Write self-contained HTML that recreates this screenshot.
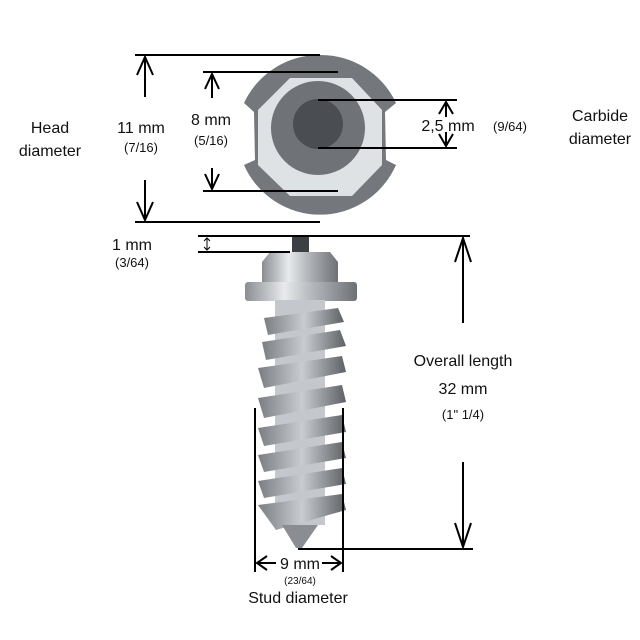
<!DOCTYPE html><html><head><style>body{margin:0;background:#fff}svg{display:block}text{font-family:"Liberation Sans",sans-serif;fill:#111}</style></head><body>
<svg width="640" height="640" viewBox="0 0 640 640" xmlns="http://www.w3.org/2000/svg">
<defs>
<linearGradient id="m" x1="0" x2="1"><stop offset="0" stop-color="#8a8d92"/><stop offset=".35" stop-color="#e8eaec"/><stop offset=".6" stop-color="#b4b7bb"/><stop offset="1" stop-color="#6d7075"/></linearGradient>
<linearGradient id="t" x1="0" x2="1"><stop offset="0" stop-color="#7a7d82"/><stop offset=".5" stop-color="#c9ccd0"/><stop offset="1" stop-color="#5d6065"/></linearGradient>
</defs>
<path d="M320 55 A83 83 0 0 1 396 103 L385 112 L386 160 L396 165 A83 83 0 0 1 244 165 L255 160 L254 112 L244 103 A83 83 0 0 1 320 55Z" fill="#74777c"/>
<polygon points="290,78 352,78 382,110 382,165 352,196 290,196 258,165 258,110" fill="#dfe2e5"/>
<circle cx="318" cy="128" r="47" fill="#6f7277"/>
<circle cx="318" cy="124" r="25" fill="#4a4d52"/>
<rect x="292" y="236" width="17" height="17" fill="#3c3f44"/>
<polygon points="270,252 330,252 338,262 338,285 262,285 262,262" fill="url(#m)"/>
<rect x="245" y="282" width="112" height="19" rx="3" fill="url(#m)"/>
<rect x="275" y="300" width="50" height="225" fill="#c4c7cb"/>
<g fill="url(#t)">
<polygon points="264,318 338,308 344,322 268,335"/>
<polygon points="262,342 340,330 346,346 266,360"/>
<polygon points="258,368 342,356 346,372 264,388"/>
<polygon points="258,398 342,385 346,402 264,418"/>
<polygon points="258,428 342,415 346,432 264,446"/>
<polygon points="258,455 342,442 346,458 264,472"/>
<polygon points="258,481 342,468 346,484 264,498"/>
<polygon points="258,505 342,494 346,510 276,530"/>
</g>
<polygon points="282,525 318,525 302,548 296,548" fill="#8a8d92"/>
<g stroke="#000" stroke-width="2" fill="none">
<line x1="135" y1="55" x2="320" y2="55"/><line x1="135" y1="222" x2="320" y2="222"/>
<line x1="145" y1="57" x2="145" y2="97"/><polyline points="137,75 145,57 153,75"/>
<line x1="145" y1="180" x2="145" y2="220"/><polyline points="137,202 145,220 153,202"/>
<line x1="203" y1="72" x2="338" y2="72"/><line x1="203" y1="191" x2="338" y2="191"/>
<line x1="212" y1="74" x2="212" y2="98"/><polyline points="205,89 212,74 219,89"/>
<line x1="212" y1="168" x2="212" y2="189"/><polyline points="205,174 212,189 219,174"/>
<line x1="318" y1="100" x2="457" y2="100"/><line x1="318" y1="148" x2="457" y2="148"/>
<line x1="446" y1="102" x2="446" y2="117"/><polyline points="439,114 446,102 453,114"/>
<line x1="446" y1="132" x2="446" y2="146"/><polyline points="439,134 446,146 453,134"/>
<line x1="198" y1="236" x2="470" y2="236"/><line x1="198" y1="252" x2="290" y2="252"/>
<line x1="463" y1="238" x2="463" y2="323"/><polyline points="455,262 463,238 471,262"/>
<line x1="463" y1="462" x2="463" y2="547"/><polyline points="455,523 463,547 471,523"/>
<line x1="298" y1="549" x2="473" y2="549"/>
<line x1="255" y1="408" x2="255" y2="572"/><line x1="343" y1="408" x2="343" y2="572"/>
<polyline points="267,556 257,563 267,570"/><line x1="257" y1="563" x2="276" y2="563"/>
<polyline points="331,556 341,563 331,570"/><line x1="322" y1="563" x2="341" y2="563"/>
</g>
<g stroke="#000" stroke-width="1" fill="none"><line x1="207" y1="238" x2="207" y2="250"/><polyline points="204,241 207,238 210,241"/><polyline points="204,247 207,250 210,247"/></g>
<g font-size="16" text-anchor="middle">
<text x="50" y="133">Head</text><text x="50" y="156">diameter</text>
<text x="141" y="133">11 mm</text><text x="141" y="152" font-size="13">(7/16)</text>
<text x="211" y="125">8 mm</text><text x="211" y="145" font-size="13">(5/16)</text>
<text x="448" y="131">2,5 mm</text><text x="510" y="131" font-size="13">(9/64)</text>
<text x="600" y="121">Carbide</text><text x="600" y="144">diameter</text>
<text x="132" y="250">1 mm</text><text x="132" y="267" font-size="13">(3/64)</text>
<text x="463" y="366">Overall length</text><text x="463" y="394">32 mm</text><text x="463" y="419" font-size="13">(1" 1/4)</text>
<text x="300" y="569">9 mm</text><text x="300" y="584" font-size="10">(23/64)</text>
<text x="298" y="603">Stud diameter</text>
</g>
</svg></body></html>
